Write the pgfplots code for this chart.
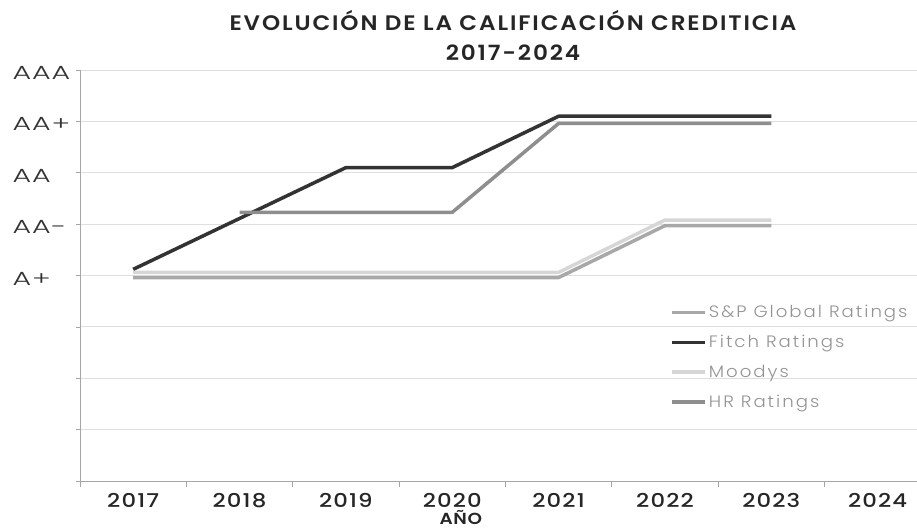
\documentclass[border=0pt]{standalone}
\usepackage{fontspec}
\usepackage{pgfplots}
\pgfplotsset{compat=1.18}
\setmainfont{Poppins}
\newfontfamily\plightsp{Poppins}[UprightFont={* Light}, FakeStretch=1.5, LetterSpace=5]
\newfontfamily\plegend{Poppins}[UprightFont={* Light}, FakeStretch=1.1, LetterSpace=12]
\newfontfamily\pmed{Poppins}[UprightFont={* Medium}, FakeStretch=1.2, LetterSpace=6]
\newfontfamily\pbold{Poppins}[UprightFont={* SemiBold}, FakeStretch=1.1, LetterSpace=9]
\newfontfamily\pboldx{Poppins}[UprightFont={* SemiBold}, FakeStretch=1.15, LetterSpace=4]
\definecolor{spc}{HTML}{A8A8A8}
\definecolor{fitchc}{HTML}{333333}
\definecolor{moodc}{HTML}{D6D6D6}
\definecolor{hrc}{HTML}{8E8E8E}
\begin{document}
\begin{tikzpicture}[x=1pt,y=1pt]
\useasboundingbox (0,0) rectangle (917,531);
\node[align=center, font=\pbold\fontsize{21}{30}\selectfont, text=black!85] at (513,496) {EVOLUCIÓN DE LA CALIFICACIÓN CREDITICIA\\2017-2024};
\begin{axis}[
 at={(80pt,50pt)}, anchor=south west,
 scale only axis, width=837pt, height=411pt,
 xmin=-0.5, xmax=7.37, ymin=0, ymax=8,
 axis lines*=left,
 axis line style={gray!70, line width=0.6pt},
 xtick={0,...,7}, xticklabels={2017,2018,2019,2020,2021,2022,2023,2024},
 major x tick style={draw=none},
 minor xtick={-0.5,0.5,...,6.5},
 minor x tick style={gray!70, line width=0.6pt},
 minor tick length=6pt,
 major tick length=4pt,
 tick align=outside,
 ytick={0,...,8}, yticklabels={{},{},{},{},A+,AA-,AA,AA+,AAA},
 major y tick style={gray!70, line width=0.6pt},
 ymajorgrids, major grid style={gray!25, line width=0.8pt},
 yticklabel style={font=\plightsp\fontsize{19}{19}\selectfont, anchor=west, xshift=-67pt, yshift=-3pt, text=black!80},
 xticklabel style={font=\pmed\fontsize{19}{19}\selectfont, text=black!85, yshift=-5pt},
 xlabel={AÑO},
 xlabel style={font=\pboldx\fontsize{16}{16}\selectfont, text=black!85, at={(axis description cs:0.455,0)}, anchor=north, yshift=-29pt, inner sep=0pt},
 legend style={at={(axis cs:5.05,3.46)}, anchor=north west, draw=none, fill=none, font=\plegend\fontsize{16.5}{16.5}\selectfont, text=gray!85, row sep=12pt, inner sep=0pt},
 legend cell align=left,
 legend image code/.code={\draw[#1, line width=3.5pt] (0pt,0pt) -- (33pt,0pt);},
 every axis plot/.append style={line width=3.5pt, line join=round, mark=none},
]
\addplot[color=spc] coordinates {(0,3.96)(1,3.96)(2,3.96)(3,3.96)(4,3.96)(5,4.97)(6,4.97)};
\addlegendentry{S\&P Global Ratings}
\addplot[color=fitchc] coordinates {(0,4.12)(1,5.11)(2,6.1)(3,6.1)(4,7.1)(5,7.1)(6,7.1)};
\addlegendentry{Fitch Ratings}
\addplot[color=moodc] coordinates {(0,4.06)(1,4.06)(2,4.06)(3,4.06)(4,4.06)(5,5.08)(6,5.08)};
\addlegendentry{Moodys}
\addplot[color=hrc] coordinates {(1,5.23)(2,5.23)(3,5.23)(4,6.96)(5,6.96)(6,6.96)};
\addlegendentry{HR Ratings}
\end{axis}
\end{tikzpicture}
\end{document}
